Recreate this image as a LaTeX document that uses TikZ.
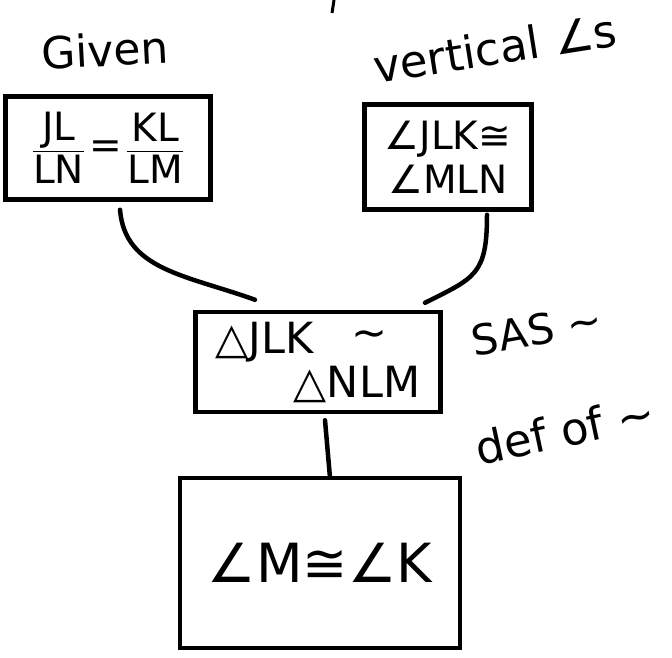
\documentclass[tikz,border=0pt]{standalone}
\usepackage{amsmath}
\usepackage{fontspec}
\setmainfont{DejaVu Sans}
\usetikzlibrary{calc}
\begin{document}
\begin{tikzpicture}[x=1pt,y=-1pt]
\tikzset{
  box/.style={draw, line width=4.5pt, inner sep=0pt, align=center},
  conn/.style={line width=4.5pt, line cap=round},
  lbl/.style={inner sep=0pt, align=center}
}
\useasboundingbox (0,0) rectangle (672,657);
% boxes
\node[box, minimum width=205pt, minimum height=103pt, font=\fontsize{39}{44}\selectfont] (L) at (108,148)
  {$\dfrac{\text{JL}}{\text{LN}}\,\text{=}\,\dfrac{\text{KL}}{\text{LM}}$};
\node[box, minimum width=167pt, minimum height=105pt, font=\fontsize{39}{44}\selectfont] (R) at (448,157)
  {∠JLK≅\\∠MLN};
\node[box, minimum width=245pt, minimum height=100pt, align=left, font=\fontsize{43}{44}\selectfont] (M) at (318,362)
  {△JLK\hspace*{38pt}\raisebox{6pt}{∼}\\\hspace*{78pt}△NLM};
\node[box, minimum width=280pt, minimum height=170pt, font=\fontsize{54}{60}\selectfont] (B) at (320,563)
  {∠M≅∠K};
% labels
\node[lbl, rotate=3, font=\fontsize{44}{48}\selectfont] (given) at (105,50) {Given};
\node[lbl, rotate=9, font=\fontsize{45}{48}\selectfont] (vert) at (495,48) {vertical ∠s};
\node[lbl, rotate=10, font=\fontsize{42}{46}\selectfont] (sas) at (537,330) {SAS ∼};
\node[lbl, rotate=12, font=\fontsize{45}{48}\selectfont] (def) at (565,430) {def of ∼};
% connectors
\draw[conn] ($(L.south)+(12,8)$) .. controls +(5,60) and +(-70,-25) .. ($(M.north)+(-63,-10)$);
\draw[conn] ($(R.south)+(39,3)$) .. controls +(0,60) and +(50,-25) .. ($(M.north)+(107,-7)$);
\draw[conn] ($(M.south)+(7,6)$) -- ($(B.north)+(10,2)$);
% stray mark at top
\draw[line width=3pt] (334,0) -- (332,13);
\end{tikzpicture}
\end{document}
